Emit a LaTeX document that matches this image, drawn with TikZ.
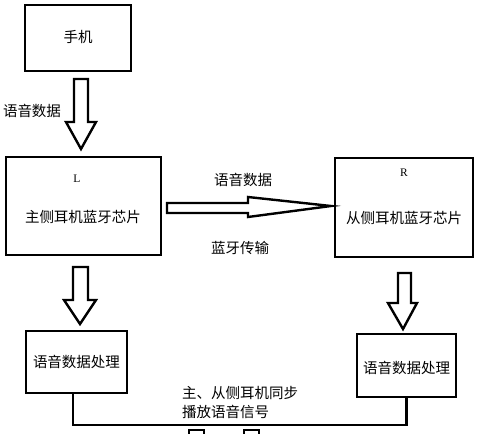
\documentclass[tikz,border=0pt]{standalone}
\usepackage{fontspec}
\newfontfamily\cjk{Noto Sans CJK SC}
\setmainfont{Liberation Serif}
\begin{document}
\begin{tikzpicture}[x=1pt,y=-1pt,
  boxst/.style={draw,line width=2.6pt,inner sep=0pt},
  blockarrow/.style={draw,line width=2.4pt,line join=miter,fill=white},
  cn/.style={font=\cjk\fontsize{14.5}{17}\selectfont,inner sep=0pt},
  lt/.style={font=\fontsize{11.5}{13}\selectfont,inner sep=0pt}]
\fill[white] (0,0) rectangle (480,434);
\useasboundingbox (0,0) rectangle (480,434);
\clip (0,0) rectangle (480,434);
% boxes
\node[boxst,minimum width=106pt,minimum height=66pt] (phone) at (78,38) {};
\node[boxst,minimum width=155pt,minimum height=98pt] (L) at (83.5,206) {};
\node[boxst,minimum width=138pt,minimum height=99pt] (R) at (404,207.5) {};
\node[boxst,minimum width=101pt,minimum height=62pt] (P1) at (76.5,362) {};
\node[boxst,minimum width=99pt,minimum height=63pt] (P2) at (406.5,365.5) {};
% texts
\node[cn] (t1) at (78,37) {手机};
\node[lt] (tL) at (77,179) {L};
\node[cn] (t2) at (83,217) {主侧耳机蓝牙芯片};
\node[lt] (tR) at (404,173) {R};
\node[cn] (t3) at (404,218) {从侧耳机蓝牙芯片};
\node[cn] (t4) at (76.5,362) {语音数据处理};
\node[cn] (t5) at (406.5,368) {语音数据处理};
\node[cn] (t6) at (32,111) {语音数据};
\node[cn] (t7) at (243,180) {语音数据};
\node[cn] (t8) at (240,248) {蓝牙传输};
\node[cn,anchor=west] (t9) at (182,393) {主、从侧耳机同步};
\node[cn,anchor=west] (t10) at (182,412) {播放语音信号};
% block arrows
\draw[blockarrow] (74,79) -- (88,79) -- (88,122) -- (96,122) -- (81,149) -- (66,122) -- (74,122) -- cycle;
\draw[blockarrow] (73,267) -- (88,267) -- (88,300) -- (96,300) -- (80,324) -- (64,300) -- (73,300) -- cycle;
\draw[blockarrow] (398,273) -- (411,273) -- (411,303) -- (417,303) -- (403,329) -- (388,303) -- (398,303) -- cycle;
\draw[blockarrow] (167,203) -- (248,203) -- (248,197) -- (331,206) -- (248,217) -- (248,213) -- (167,213) -- cycle;
% bottom connector
\coordinate (bl) at (73,425);
\draw[line width=2.6pt] (P1.south -| bl) -- (bl) -| (P2.south);
% partially visible shapes at bottom
\draw[line width=2.6pt] (189,440) -- (189,430) -- (204,430) -- (204,440);
\draw[line width=2.6pt] (244,440) -- (244,430) -- (259,430) -- (259,440);
\end{tikzpicture}
\end{document}
